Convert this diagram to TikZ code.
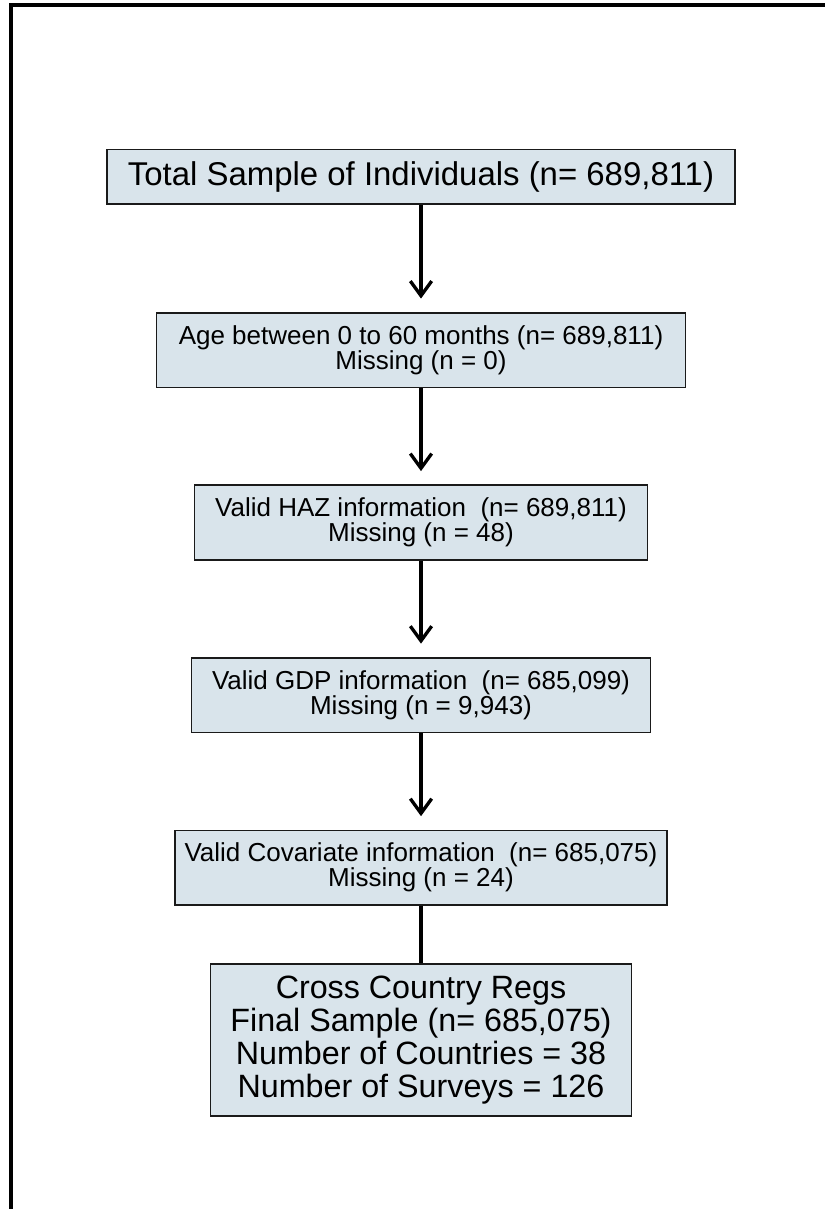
\documentclass[tikz,border=0pt]{standalone}
\usepackage{fontspec}
\setmainfont{Liberation Sans}
\usepackage{tikz}
\usetikzlibrary{matrix,arrows.meta}
\definecolor{boxfill}{HTML}{D9E4EB}
\definecolor{boxedge}{HTML}{1A1A1A}
\newcommand{\bigtext}{\fontsize{24.7}{24.7}\selectfont}
\newcommand{\smalltext}{\fontsize{19.5}{18.8}\selectfont}
\newcommand{\finaltext}{\fontsize{24.2}{24.75}\selectfont}

\begin{document}
\begin{tikzpicture}[x=0.75pt, y=-0.75pt,
  stagebox/.style={draw=boxedge, line width=1.2pt, fill=boxfill, align=center, inner sep=0pt, font=\smalltext, minimum height=56pt},
  flowarrow/.style={line width=2.5pt, -{Straight Barb[length=11pt,width=16pt,line width=2.5pt]}, shorten >=10pt}]
\useasboundingbox (0,0) rectangle (825,1209);
% frame
\draw[line width=3.4pt] (11,1209) -- (11,5) -- (825,5);
\matrix (m) [anchor=north, row sep=72.2pt] at (421,144) {
\node[stagebox, font=\bigtext, minimum width=471pt, minimum height=41pt] (total) {Total Sample of Individuals (n= 689,811)}; \\[8pt]
\node[stagebox, minimum width=397pt] (age) {Age between 0 to 60 months (n= 689,811)\\Missing (n = 0)}; \\
\node[stagebox, minimum width=340pt] (haz) {Valid HAZ information\ \ (n= 689,811)\\Missing (n = 48)}; \\
\node[stagebox, minimum width=344pt] (gdp) {Valid GDP information\ \ (n= 685,099)\\Missing (n = 9,943)}; \\
\node[stagebox, minimum width=369pt] (covar) {Valid Covariate information\ \ (n= 685,075)\\Missing (n = 24)}; \\[-29pt]
\node[stagebox, font=\finaltext, minimum width=316pt, minimum height=114pt] (final) {Cross Country Regs\\Final Sample (n= 685,075)\\Number of Countries = 38\\Number of Surveys = 126}; \\
};
\draw[flowarrow] (total) -- (age);
\draw[flowarrow] (age) -- (haz);
\draw[flowarrow] (haz) -- (gdp);
\draw[flowarrow] (gdp) -- (covar);
\draw[line width=2.5pt] (covar) -- (final);
\end{tikzpicture}
\end{document}
